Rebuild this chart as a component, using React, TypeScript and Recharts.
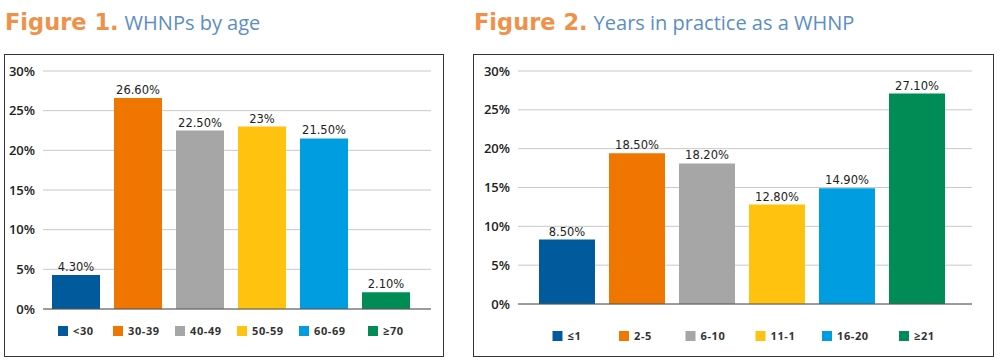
import { BarChart, Bar, XAxis, YAxis, CartesianGrid, Cell, LabelList } from "recharts";

// Figure 1: WHNPs by age
const ageCategories = ["<30", "30-39", "40-49", "50-59", "60-69", "≥70"];
const ageValues = [4.3, 26.6, 22.5, 23, 21.5, 2.1];
const ageLabels = ["4.30%", "26.60%", "22.50%", "23%", "21.50%", "2.10%"];

// Figure 2: Years in practice (bar heights as drawn, labels as printed)
const yearsCategories = ["≤1", "2-5", "6-10", "11-1", "16-20", "≥21"];
const yearsValues = [8.3, 19.4, 18.1, 12.8, 14.9, 27.1];
const yearsLabels = ["8.50%", "18.50%", "18.20%", "12.80%", "14.90%", "27.10%"];

const percentTicks = [0, 5, 10, 15, 20, 25, 30];
const barColors = ["#005a9c", "#ef7600", "#a6a6a6", "#ffc20e", "#009ee0", "#008c54"];

const toRows = (names: string[], values: number[], labels: string[]) =>
  names.map((name, i) => ({ name, value: values[i], label: labels[i] }));

function LegendTick(props: any) {
  const { x, y, payload, legendY } = props;
  const i = payload.index;
  const text = String(payload.value);
  const textW = text.length * 7;
  const total = 10 + 5 + textW;
  const left = x - total / 2;
  return (
    <g>
      <rect x={left} y={y + legendY - 5} width={10} height={10} fill={barColors[i]} />
      <text
        x={left + 15}
        y={y + legendY + 4}
        fontFamily="Open Sans"
        fontWeight={700}
        fontSize={11}
        letterSpacing={0.6}
        fill="#333"
      >
        {text}
      </text>
    </g>
  );
}

interface PanelProps {
  left: number;
  width: number;
  figure: string;
  title: string;
  rows: Array<{ name: string; value: number; label: string }>;
  yWidth: number;
  marginRight: number;
  marginBottom: number;
  padLeft: number;
  padRight: number;
  barSize: number;
  legendY: number;
}

function Panel({
  left,
  width,
  figure,
  title,
  rows,
  yWidth,
  marginRight,
  marginBottom,
  padLeft,
  padRight,
  barSize,
  legendY,
}: PanelProps) {
  return (
    <>
      <div
        style={{
          position: "absolute",
          left: left + 1,
          top: 7,
          whiteSpace: "nowrap",
          lineHeight: "30px",
        }}
      >
        <span style={{ fontFamily: "DejaVu Sans", fontWeight: 700, fontSize: 22.5, color: "#f0914a" }}>
          {figure}
        </span>
        <span style={{ fontFamily: "Open Sans", fontSize: 20, color: "#5b8ec4", marginLeft: 6 }}>
          {title}
        </span>
      </div>
      <div
        style={{
          position: "absolute",
          left,
          top: 54,
          width,
          height: 303,
          boxSizing: "border-box",
          border: "1.5px solid #333",
        }}
      />
      <div style={{ position: "absolute", left, top: 54 }}>
        <BarChart
          width={width}
          height={303}
          data={rows}
          margin={{ top: 17, right: marginRight, left: 0, bottom: marginBottom }}
        >
          <CartesianGrid vertical={false} stroke="#c8c8c8" />
          <XAxis
            dataKey="name"
            height={30}
            axisLine={{ stroke: "#555", strokeWidth: 1.2 }}
            tickLine={false}
            tickSize={0}
            tickMargin={0}
            interval={0}
            padding={{ left: padLeft, right: padRight }}
            tick={<LegendTick legendY={legendY} />}
          />
          <YAxis
            width={yWidth}
            domain={[0, 30]}
            ticks={percentTicks}
            axisLine={false}
            tickLine={false}
            tickFormatter={(v) => `${v}%`}
            tick={{ fontFamily: "Open Sans", fontWeight: 600, fontSize: 13, fill: "#222" }}
          />
          <Bar dataKey="value" barSize={barSize} isAnimationActive={false}>
            {rows.map((r, i) => (
              <Cell key={r.name} fill={barColors[i]} />
            ))}
            <LabelList
              dataKey="label"
              position="top"
              offset={4}
              style={{ fontFamily: "DejaVu Sans", fontSize: 11.5, fill: "#222" }}
            />
          </Bar>
        </BarChart>
      </div>
    </>
  );
}

export default function App() {
  return (
    <div
      style={{
        position: "absolute",
        left: 0,
        top: 0,
        width: 1000,
        height: 360,
        background: "#fff",
        overflow: "hidden",
      }}
    >
      <Panel
        left={4}
        width={440}
        figure="Figure 1."
        title="WHNPs by age"
        rows={toRows(ageCategories, ageValues, ageLabels)}
        yWidth={39}
        marginRight={13}
        marginBottom={18}
        padLeft={2}
        padRight={14}
        barSize={48}
        legendY={22}
      />
      <Panel
        left={473}
        width={521}
        figure="Figure 2."
        title="Years in practice as a WHNP"
        rows={toRows(yearsCategories, yearsValues, yearsLabels)}
        yWidth={45}
        marginRight={22}
        marginBottom={23}
        padLeft={14}
        padRight={20}
        barSize={56}
        legendY={32}
      />
    </div>
  );
}
